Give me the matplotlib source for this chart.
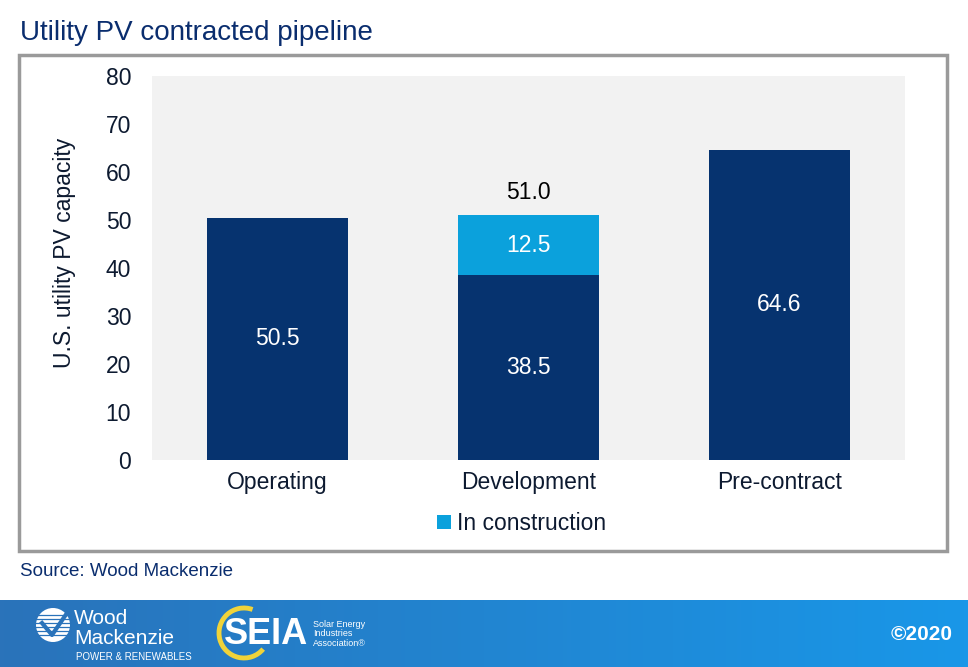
import matplotlib
matplotlib.use("Agg")
import matplotlib.pyplot as plt
import numpy as np
from matplotlib.patches import Rectangle, Circle, Arc
from matplotlib.colors import LinearSegmentedColormap

plt.rcParams['font.family'] = ['Liberation Sans', 'DejaVu Sans']

categories = ["Operating", "Development", "Pre-contract"]
base_values = [50.5, 38.5, 64.6]
construction_values = [0, 12.5, 0]
totals = [None, 51.0, None]
yticks = [0, 10, 20, 30, 40, 50, 60, 70, 80]

NAVY = "#06336f"
LIGHT = "#0ba1dc"
TITLE = "#0a2d6e"
TXT = "#0d1a30"
FS = 16.5

W, H = 968, 667
fig = plt.figure(figsize=(W / 100, H / 100), dpi=100)

def fx(px):
    return px / W

def fy(py):
    return 1 - py / H

# Outer border box
fig.patches.append(Rectangle((fx(19), fy(551)), fx(947) - fx(19), fy(55) - fy(551),
                             transform=fig.transFigure, facecolor="none",
                             edgecolor="#9a9a9a", linewidth=2.5, zorder=5))

fig.text(fx(20), fy(33), "Utility PV contracted pipeline", fontsize=20,
         color=TITLE, va="center", ha="left")

ax = fig.add_axes([fx(152), fy(460), fx(905) - fx(152), fy(76) - fy(460)])
ax.set_facecolor("#f2f2f2")
x = np.arange(len(categories))
width = 0.56
ax.bar(x, base_values, width, color=NAVY, zorder=2)
ax.bar(x, construction_values, width, bottom=base_values, color=LIGHT,
       zorder=2, label="In construction")

for i, v in enumerate(base_values):
    ax.text(x[i], v / 2, f"{v:.1f}", color="white", fontsize=FS,
            ha="center", va="center", zorder=3)
for i, v in enumerate(construction_values):
    if v > 0:
        ax.text(x[i], base_values[i] + v / 2, f"{v:.1f}", color="white",
                fontsize=FS, ha="center", va="center", zorder=3)
for i, t in enumerate(totals):
    if t is not None:
        ax.text(x[i], t + 4.8, f"{t:.1f}", color="black", fontsize=FS,
                ha="center", va="center", zorder=3)

ax.set_xlim(-0.5, 2.5)
ax.set_ylim(0, 80)
ax.set_yticks(yticks)
ax.set_yticklabels([str(t) for t in yticks], fontsize=FS, color=TXT)
ax.set_xticks(x)
ax.set_xticklabels(categories, fontsize=FS, color=TXT)
ax.tick_params(axis="both", length=0)
ax.tick_params(axis="y", pad=15)
ax.tick_params(axis="x", pad=8)
for s in ax.spines.values():
    s.set_visible(False)
ax.set_ylabel("U.S. utility PV capacity", fontsize=FS, color=TXT)
ax.yaxis.set_label_coords(-0.101, 0.539)

leg = ax.legend(loc="upper center", bbox_to_anchor=(0.491, -0.082), frameon=False,
                fontsize=FS, handlelength=0.6, handleheight=0.6, handletextpad=0.3,
                labelcolor=TXT)

fig.text(fx(20), fy(572), "Source: Wood Mackenzie", fontsize=13.5,
         color=TITLE, va="center", ha="left")

# Footer banner with gradient
fax = fig.add_axes([0, 0, 1, fy(600)])
grad = np.linspace(0, 1, 256).reshape(1, -1)
cmap = LinearSegmentedColormap.from_list("b", ["#2a73ba", "#1997e8"])
fax.imshow(grad, aspect="auto", cmap=cmap, extent=[0, W, 0, 67])
fax.set_xlim(0, W)
fax.set_ylim(0, 67)
fax.axis("off")

# Wood Mackenzie logo (text approximation)
fax.add_patch(Circle((53, 42), 17, facecolor="white", edgecolor="none"))
for k in range(6):
    fax.plot([36, 70], [32 + k * 4, 32 + k * 4], color="#2a73ba", lw=0.9)
fax.plot([42, 52, 67], [44, 32, 54], color="#2a73ba", lw=3)
fax.text(74, 48, "Wood", fontsize=15, color="white", va="center", ha="left")
fax.text(74, 29, "Mackenzie", fontsize=15, color="white", va="center", ha="left")
fax.text(76, 10, "POWER & RENEWABLES", fontsize=7, color="white",
         va="center", ha="left")

# SEIA logo
fax.add_patch(Arc((244, 34), 50, 50, theta1=70, theta2=320, color="#f0d33a", lw=3.5))
fax.text(224, 33, "SEIA", fontsize=26, color="white", fontweight="bold",
         va="center", ha="left")
fax.text(313, 33, "Solar Energy\nIndustries\nAssociation®", fontsize=6.5,
         color="white", va="center", ha="left", linespacing=1.1)

fax.text(953, 33, "©2020", fontsize=15, color="white", fontweight="bold",
         va="center", ha="right")

fig.savefig("out.png", dpi=100)
